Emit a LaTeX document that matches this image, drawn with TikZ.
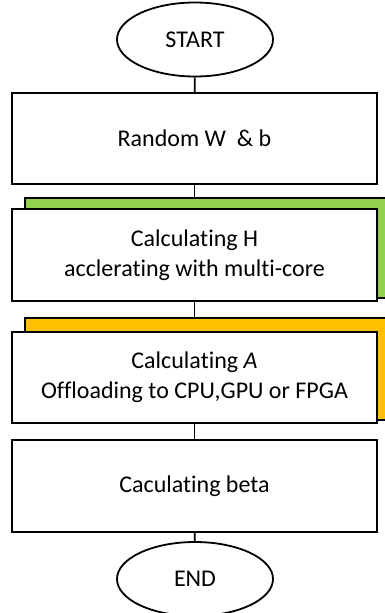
\documentclass[tikz,border=0pt]{standalone}
\usepackage{fontspec}
\setmainfont[Ligatures=NoCommon]{Carlito}
\usetikzlibrary{shapes.geometric}
\definecolor{leafgreen}{HTML}{92D050}
\definecolor{amber}{HTML}{FFC000}
\begin{document}
\begin{tikzpicture}[x=1pt,y=-1pt,
  stepbox/.style={draw, line width=2pt, fill=white, minimum width=365pt,
    minimum height=91pt, inner sep=0pt, align=center,
    font=\fontsize{24}{30}\selectfont},
  terminal/.style={ellipse, draw, line width=1.8pt, fill=white,
    minimum width=156pt, minimum height=74pt, inner sep=0pt,
    font=\fontsize{24}{30}\selectfont},
  backbox/.style={draw, line width=2pt, inner sep=0pt, anchor=north west,
    minimum width=380pt},
  link/.style={draw, line width=1.8pt}]
\useasboundingbox (0,0) rectangle (385,613);
\clip (0,0) rectangle (385,613);
\fill[white] (0,0) rectangle (385,613);

% terminals and process steps
\node[terminal] (start) at (195,39.5) {START};
\node[stepbox] (rand) at (194.5,138.5) {Random W\ \ \& b};

\node[backbox, fill=leafgreen, minimum height=100pt] (hback) at (24,197) {};
\node[stepbox, minimum height=92pt] (hcalc) at (194.5,255)
  {Calculating H\\acclerating with multi-core};

\node[backbox, fill=amber, minimum height=102pt] (aback) at (24,317) {};
\node[stepbox] (acalc) at (194.5,377.5)
  {Calculating \textit{A}\\Offloading to CPU,GPU or FPGA};

\node[stepbox, minimum height=92pt] (beta) at (194.5,486) {Caculating beta};
\node[terminal] (end) at (195,579) {END};

% flow connectors
\path[link] (start) -- (rand);
\path[link] (rand.south) -- (rand.south |- hback.north);
\path[link] (hcalc.south) -- (hcalc.south |- aback.north);
\path[link] (acalc) -- (beta);
\path[link] (beta) -- (end);
\end{tikzpicture}
\end{document}
